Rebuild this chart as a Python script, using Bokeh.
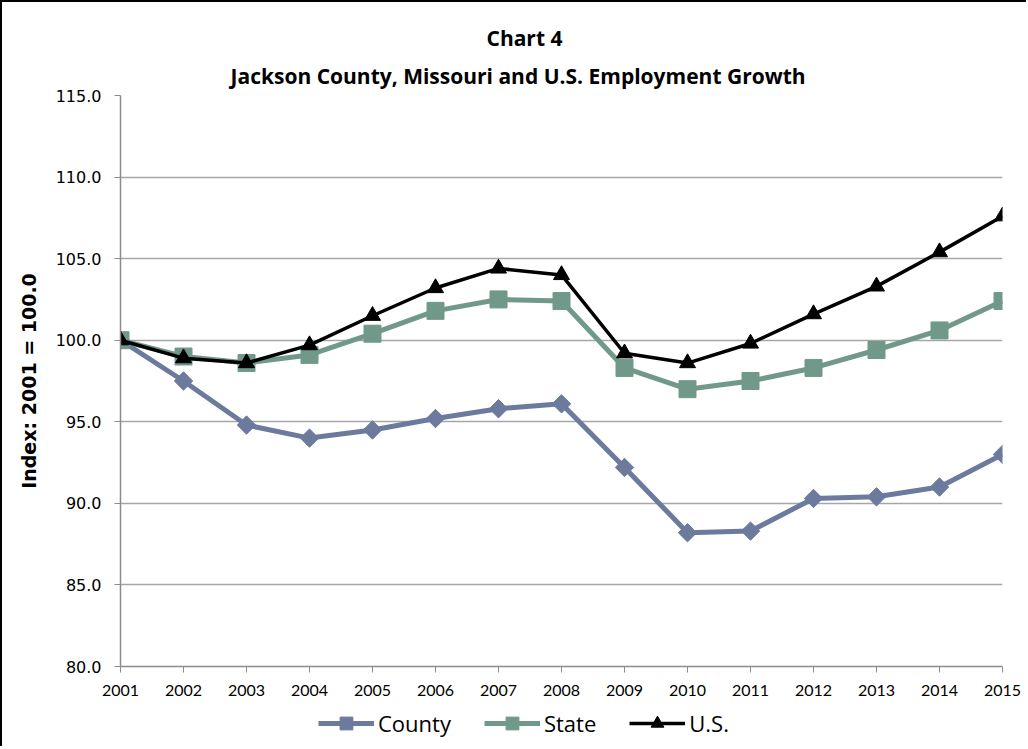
from bokeh.plotting import figure
from bokeh.layouts import column
from bokeh.models import (Range1d, FixedTicker, PrintfTickFormatter, Legend, LegendItem, Title)
from bokeh.embed import file_html
from bokeh.resources import INLINE
import numpy as np

years = list(range(2001, 2016))
year_labels = [str(y) for y in years]
county = [100.0, 97.5, 94.8, 94.0, 94.5, 95.2, 95.8, 96.1, 92.2, 88.2, 88.3, 90.3, 90.4, 91.0, 93.0]
state = [100.0, 99.0, 98.6, 99.1, 100.4, 101.8, 102.5, 102.4, 98.3, 97.0, 97.5, 98.3, 99.4, 100.6, 102.4]
us = [100.0, 98.9, 98.6, 99.7, 101.5, 103.2, 104.4, 104.0, 99.2, 98.6, 99.8, 101.6, 103.3, 105.4, 107.6]
y_ticks = [80, 85, 90, 95, 100, 105, 110, 115]
series_names = ["County", "State", "U.S."]

title_1 = "Chart 4"
title_2 = "Jackson County, Missouri and U.S. Employment Growth"
y_label = "Index: 2001 = 100.0"

C_COUNTY = "#6C7A9E"
C_STATE = "#71998A"
C_US = "#000000"

font = "Lato"
tfont = "Open Sans"

p = figure(width=1024, height=700, output_backend="svg", toolbar_location=None,
           x_range=Range1d(2001, 2015), y_range=Range1d(80, 115),
           min_border_left=118, min_border_top=93, min_border_right=24, min_border_bottom=36)
p.outline_line_color = None
p.background_fill_color = "white"
p.border_fill_color = "white"

# titles (added bottom-up: last added is top-most)
t2 = Title(text=title_2, align="left", offset=110, text_font=tfont, text_font_style="bold",
           text_font_size="21px", standoff=12, text_color="black")
t1 = Title(text=title_1, align="left", offset=366, text_font=tfont, text_font_style="bold",
           text_font_size="21px", standoff=4, text_color="black")
p.add_layout(t2, "above")
p.add_layout(t1, "above")

# axes
p.xaxis.ticker = FixedTicker(ticks=years)
p.xaxis.major_label_overrides = {y: s for y, s in zip(years, year_labels)}
p.yaxis.ticker = FixedTicker(ticks=y_ticks)
p.yaxis.formatter = PrintfTickFormatter(format="%.1f")
for ax in (p.xaxis, p.yaxis):
    ax.axis_line_color = "#8C8C8C"
    ax.axis_line_width = 1.5
    ax.major_tick_line_color = "#8C8C8C"
    ax.major_tick_in = 0
    ax.major_tick_out = 6
    ax.minor_tick_line_color = None
    ax.major_label_text_color = "#000000"
p.xaxis.major_label_text_font = font
p.xaxis.major_label_text_font_size = "16px"
p.xaxis.major_label_standoff = 12
p.yaxis.major_label_text_font = "DejaVu Sans"
p.yaxis.major_label_text_font_size = "16px"
p.yaxis.major_label_standoff = 13
p.yaxis.axis_label = y_label
p.yaxis.axis_label_text_font = "DejaVu Sans"
p.yaxis.axis_label_text_font_style = "bold"
p.yaxis.axis_label_text_font_size = "19px"
p.yaxis.axis_label_standoff = 13
p.yaxis.axis_label_text_color = "black"

p.xgrid.grid_line_color = None
p.ygrid.ticker = FixedTicker(ticks=y_ticks)
p.ygrid.grid_line_color = "#A6A6A6"
p.ygrid.grid_line_width = 1.5

# series
p.line(years, county, line_color=C_COUNTY, line_width=5)
p.scatter(years, county, marker="square", angle=np.pi / 4, size=13,
          fill_color=C_COUNTY, line_color=C_COUNTY)
p.line(years, state, line_color=C_STATE, line_width=5)
p.scatter(years, state, marker="square", size=17,
          fill_color=C_STATE, line_color=C_STATE)
p.line(years, us, line_color=C_US, line_width=3.5)
p.scatter(years, us, marker="triangle", size=16,
          fill_color=C_US, line_color=C_US)

# legend strip below the chart (proxy renderers use the same data, out of this strip's view)
lg = figure(width=1024, height=44, output_backend="svg", toolbar_location=None,
            x_range=Range1d(0, 1), y_range=Range1d(0, 1),
            x_axis_location=None, y_axis_location=None, min_border=0)
lg.outline_line_color = None
lg.grid.grid_line_color = None
lg.background_fill_color = "white"
lg.border_fill_color = "white"

styles = [(county, C_COUNTY, 5, dict(marker="square", angle=np.pi / 4)),
          (state, C_STATE, 5, dict(marker="square")),
          (us, C_US, 3.5, dict(marker="triangle"))]
items = []
for name, (vals, c, lw, mk) in zip(series_names, styles):
    lr = lg.line(years, vals, line_color=c, line_width=lw)
    sr = lg.scatter(years, vals, fill_color=c, line_color=c, **mk)
    items.append(LegendItem(label=name, renderers=[lr, sr]))

legend = Legend(items=items, orientation="horizontal", location=(198, 7),
                border_line_color=None, background_fill_alpha=0,
                label_text_font=tfont, label_text_font_size="22px", label_text_color="black",
                glyph_width=56, glyph_height=32, spacing=33, padding=2, margin=0, label_standoff=4)
lg.add_layout(legend, "center")

layout = column(p, lg, spacing=0,
                styles={"border-left": "2px solid black", "border-top": "2px solid black"})

open("out.html", "w").write(file_html(layout, INLINE))
